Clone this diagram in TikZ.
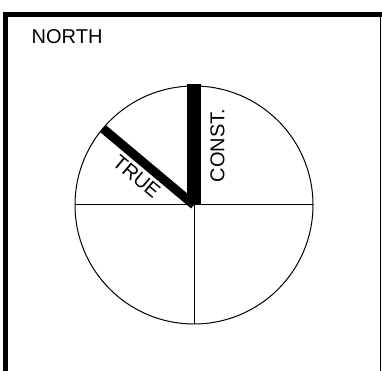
\documentclass[tikz,border=0pt]{standalone}
\usepackage{fontspec}
\setmainfont{Liberation Sans}
\usetikzlibrary{calc}
\begin{document}
\begin{tikzpicture}[x=1pt,y=1pt,
  lbl/.style={inner sep=0pt,font=\fontsize{20}{24}\selectfont},
  thin line/.style={line width=1pt},
  bar/.style={line width=9pt,line cap=butt}]
\useasboundingbox (0,0) rectangle (382,371);
% frame
\draw[line width=5pt] (5.5,0) -- (5.5,356.5);
\draw[line width=5pt] (3,356.5) -- (381.5,356.5);
\draw[line width=1.5pt] (380.5,0) -- (380.5,359);
% circle
\coordinate (c) at (194,166);
\draw[thin line] (c) circle (119);
\coordinate (w) at (75,166);
\coordinate (e) at (313,166);
\coordinate (s) at (194,47);
\draw[thin line] (w) -- (e);
\draw[thin line] (c) -- (s);
% bars
\fill (187,166) rectangle (201,286.5);
\coordinate (t) at ($(c)+(140:119)$);
\draw[bar] (c) -- (t);
% labels
\node[lbl,anchor=base west] (north) at (31.5,327) {NORTH};
\node[lbl,rotate=90] (const) at (217.5,225.5) {CONST.};
\node[lbl,rotate=-40] (true) at (136.7,194.3) {TRUE};
\end{tikzpicture}
\end{document}
